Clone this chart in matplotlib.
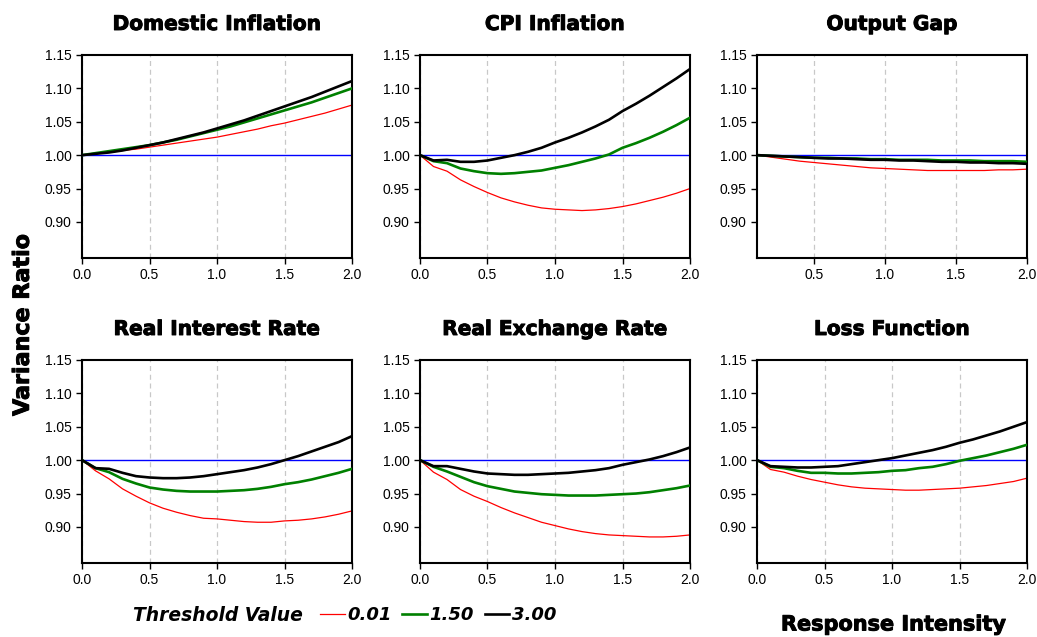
import numpy as np
import matplotlib
matplotlib.use("Agg")
import matplotlib.pyplot as plt
import matplotlib.patheffects as pe
from matplotlib.ticker import FormatStrFormatter

# response intensity grid
x = [0.0, 0.1, 0.2, 0.3, 0.4, 0.5, 0.6, 0.7, 0.8, 0.9, 1.0,
     1.1, 1.2, 1.3, 1.4, 1.5, 1.6, 1.7, 1.8, 1.9, 2.0]
x_gap = x[1:]  # output gap panel starts at 0.1

thresholds = ["0.01", "1.50", "3.00"]

dom_001 = [1.000, 1.002, 1.004, 1.007, 1.009, 1.012, 1.015, 1.018, 1.021, 1.024, 1.027,
           1.031, 1.035, 1.039, 1.044, 1.048, 1.053, 1.058, 1.063, 1.069, 1.075]
dom_150 = [1.000, 1.003, 1.006, 1.009, 1.012, 1.015, 1.019, 1.023, 1.028, 1.033, 1.038,
           1.043, 1.049, 1.055, 1.061, 1.067, 1.073, 1.079, 1.086, 1.093, 1.100]
dom_300 = [1.000, 1.002, 1.004, 1.007, 1.011, 1.015, 1.019, 1.024, 1.029, 1.034, 1.040,
           1.046, 1.052, 1.059, 1.066, 1.073, 1.080, 1.087, 1.095, 1.103, 1.111]

cpi_001 = [1.000, 0.983, 0.976, 0.963, 0.953, 0.944, 0.936, 0.930, 0.925, 0.921, 0.919,
           0.918, 0.917, 0.918, 0.920, 0.923, 0.927, 0.932, 0.937, 0.943, 0.950]
cpi_150 = [1.000, 0.991, 0.988, 0.980, 0.976, 0.973, 0.972, 0.973, 0.975, 0.977, 0.981,
           0.985, 0.990, 0.995, 1.001, 1.011, 1.018, 1.026, 1.035, 1.045, 1.056]
cpi_300 = [1.000, 0.992, 0.993, 0.990, 0.990, 0.992, 0.996, 1.000, 1.005, 1.011, 1.019,
           1.026, 1.034, 1.043, 1.053, 1.066, 1.077, 1.089, 1.102, 1.115, 1.129]

gap_001 = [1.000, 0.997, 0.994, 0.991, 0.989, 0.987, 0.985, 0.983, 0.981, 0.980,
           0.979, 0.978, 0.977, 0.977, 0.977, 0.977, 0.977, 0.978, 0.978, 0.979]
gap_150 = [1.000, 0.999, 0.998, 0.997, 0.996, 0.996, 0.995, 0.995, 0.994, 0.994,
           0.993, 0.993, 0.993, 0.992, 0.992, 0.992, 0.991, 0.991, 0.991, 0.990]
gap_300 = [1.000, 0.999, 0.998, 0.997, 0.996, 0.995, 0.995, 0.994, 0.993, 0.993,
           0.992, 0.992, 0.991, 0.990, 0.990, 0.989, 0.989, 0.988, 0.988, 0.987]

rir_001 = [1.000, 0.984, 0.972, 0.957, 0.946, 0.936, 0.928, 0.922, 0.917, 0.913, 0.912,
           0.910, 0.908, 0.907, 0.907, 0.909, 0.910, 0.912, 0.915, 0.919, 0.924]
rir_150 = [1.000, 0.988, 0.982, 0.972, 0.965, 0.959, 0.956, 0.954, 0.953, 0.953, 0.953,
           0.954, 0.955, 0.957, 0.960, 0.964, 0.967, 0.971, 0.976, 0.981, 0.987]
rir_300 = [1.000, 0.988, 0.987, 0.981, 0.976, 0.974, 0.973, 0.973, 0.974, 0.976, 0.979,
           0.982, 0.985, 0.989, 0.994, 1.000, 1.006, 1.013, 1.020, 1.027, 1.036]

rer_001 = [1.000, 0.982, 0.971, 0.956, 0.946, 0.938, 0.929, 0.921, 0.914, 0.907, 0.902,
           0.897, 0.893, 0.890, 0.888, 0.887, 0.886, 0.885, 0.885, 0.886, 0.888]
rer_150 = [1.000, 0.990, 0.983, 0.975, 0.967, 0.961, 0.957, 0.953, 0.951, 0.949, 0.948,
           0.947, 0.947, 0.947, 0.948, 0.949, 0.950, 0.952, 0.955, 0.958, 0.962]
rer_300 = [1.000, 0.991, 0.991, 0.987, 0.983, 0.980, 0.979, 0.978, 0.978, 0.979, 0.980,
           0.981, 0.983, 0.985, 0.988, 0.993, 0.997, 1.001, 1.006, 1.012, 1.019]

loss_001 = [1.000, 0.986, 0.982, 0.976, 0.971, 0.967, 0.963, 0.960, 0.958, 0.957, 0.956,
            0.955, 0.955, 0.956, 0.957, 0.958, 0.960, 0.962, 0.965, 0.968, 0.973]
loss_150 = [1.000, 0.990, 0.988, 0.984, 0.981, 0.981, 0.980, 0.980, 0.981, 0.982, 0.984,
            0.985, 0.988, 0.990, 0.994, 0.999, 1.003, 1.007, 1.012, 1.017, 1.023]
loss_300 = [1.000, 0.991, 0.990, 0.989, 0.989, 0.990, 0.991, 0.994, 0.997, 1.000, 1.003,
            1.007, 1.011, 1.015, 1.020, 1.026, 1.031, 1.037, 1.043, 1.050, 1.057]

titles = ["Domestic Inflation", "CPI Inflation", "Output Gap",
          "Real Interest Rate", "Real Exchange Rate", "Loss Function"]
panels = [
    (x, dom_001, dom_150, dom_300),
    (x, cpi_001, cpi_150, cpi_300),
    (x_gap, gap_001, gap_150, gap_300),
    (x, rir_001, rir_150, rir_300),
    (x, rer_001, rer_150, rer_300),
    (x, loss_001, loss_150, loss_300),
]

plt.rcParams['font.family'] = ['Liberation Sans', 'DejaVu Sans']

fig = plt.figure(figsize=(10.37, 6.37), dpi=100)

lefts = [0.0791, 0.405, 0.730]
bottoms = [0.595, 0.1162]
w, h = 0.2604, 0.3187

heavy = [pe.withStroke(linewidth=0.7, foreground='black')]

lines = None
for i, (xs, r, g, k) in enumerate(panels):
    ax = fig.add_axes([lefts[i % 3], bottoms[i // 3], w, h])
    ax.axhline(1.0, color='#0000ff', lw=1.0, zorder=1)
    lr, = ax.plot(xs, r, color='#ff0000', lw=0.9, zorder=2)
    lg, = ax.plot(xs, g, color='#008000', lw=1.9, zorder=3)
    lk, = ax.plot(xs, k, color='black', lw=1.9, zorder=4)
    if lines is None:
        lines = [lr, lg, lk]
    ax.set_xlim(xs[0], 2.0)
    ax.set_ylim(0.846, 1.15)
    ax.set_xticks([t for t in [0.0, 0.5, 1.0, 1.5, 2.0] if t >= xs[0]])
    ax.set_yticks([0.90, 0.95, 1.00, 1.05, 1.10, 1.15])
    ax.xaxis.set_major_formatter(FormatStrFormatter('%.1f'))
    ax.yaxis.set_major_formatter(FormatStrFormatter('%.2f'))
    ax.tick_params(labelsize=10, length=4, width=1, direction='out', colors='black')
    ax.grid(axis='x', color='#c8c8c8', ls=(0, (4, 3)), lw=0.9)
    for sp in ax.spines.values():
        sp.set_linewidth(1.5)
    t = ax.set_title(titles[i], fontsize=14.5, fontweight='bold',
                     family='DejaVu Sans', pad=18)
    t.set_path_effects(heavy)

fig.text(0.022, 0.49, "Variance Ratio", rotation=90, ha='center', va='center',
         fontsize=16, fontweight='bold', family='DejaVu Sans', path_effects=heavy)
fig.text(0.862, 0.004, "Response Intensity", ha='center', va='bottom',
         fontsize=15, fontweight='bold', family='DejaVu Sans', path_effects=heavy)
fig.text(0.2105, 0.033, "Threshold Value", ha='center', va='center',
         fontsize=13.5, fontweight='bold', style='italic', family='DejaVu Sans')
fig.legend(lines, thresholds, loc='center left', bbox_to_anchor=(0.300, 0.034),
           ncol=3, frameon=False, handlelength=1.35, handletextpad=0.15,
           columnspacing=0.6, borderpad=0.0,
           prop={'size': 13, 'weight': 'bold', 'style': 'italic', 'family': 'DejaVu Sans'})

plt.savefig("out.png", dpi=100)
